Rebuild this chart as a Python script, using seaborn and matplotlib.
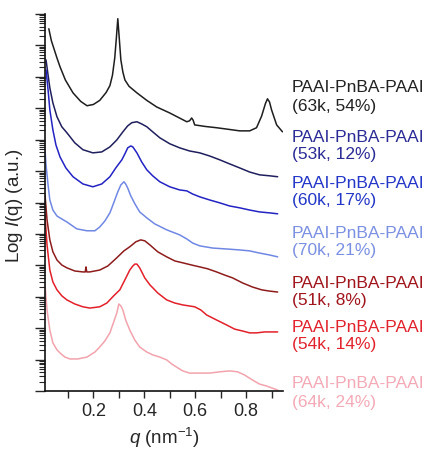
import numpy as np
import pandas as pd
import matplotlib
matplotlib.use("Agg")
import matplotlib.pyplot as plt
import seaborn as sns
from matplotlib.ticker import LogLocator, NullFormatter, FixedLocator

# ---- data (q in nm^-1, log10 intensity, offset curves) ----
q_63k = [0.025, 0.035, 0.045, 0.057, 0.069, 0.09, 0.12, 0.15, 0.175, 0.2, 0.225, 0.25, 0.265, 0.275,
         0.284, 0.29, 0.296, 0.302, 0.308, 0.316, 0.324, 0.34, 0.371, 0.41, 0.449, 0.5, 0.567, 0.578,
         0.586, 0.592, 0.598, 0.64, 0.684, 0.73, 0.775, 0.814, 0.841, 0.861, 0.876, 0.884, 0.892, 0.9,
         0.92, 0.943]
L_63k = [11.53, 11.15, 10.9, 10.6, 10.32, 9.9, 9.49, 9.22, 9.08, 9.12, 9.25, 9.5, 9.72, 10.05,
         10.6, 11.2, 11.85, 11.2, 10.54, 10.15, 9.9, 9.7, 9.49, 9.25, 9.04, 8.85, 8.57, 8.6,
         8.69, 8.62, 8.47, 8.42, 8.38, 8.33, 8.28, 8.28, 8.38, 8.75, 9.15, 9.30, 9.2, 8.95,
         8.47, 8.25]

q_53k = [0.014, 0.022, 0.029, 0.041, 0.057, 0.076, 0.096, 0.127, 0.159, 0.198, 0.233, 0.265, 0.292,
         0.316, 0.335, 0.351, 0.371, 0.39, 0.41, 0.433, 0.461, 0.5, 0.539, 0.578, 0.618, 0.657, 0.696,
         0.735, 0.775, 0.814, 0.853, 0.892, 0.924]
L_53k = [10.54, 10.06, 9.65, 9.17, 8.73, 8.41, 8.22, 7.90, 7.68, 7.58, 7.61, 7.77, 7.99,
         8.25, 8.44, 8.54, 8.57, 8.50, 8.41, 8.25, 8.06, 7.87, 7.74, 7.64, 7.58, 7.48, 7.36,
         7.23, 7.10, 6.97, 6.88, 6.85, 6.82]

q_60k = [0.014, 0.022, 0.029, 0.041, 0.053, 0.069, 0.092, 0.12, 0.159, 0.198, 0.233, 0.265, 0.288,
         0.312, 0.324, 0.335, 0.347, 0.355, 0.371, 0.39, 0.41, 0.433, 0.461, 0.5, 0.539, 0.567, 0.59,
         0.618, 0.657, 0.696, 0.735, 0.775, 0.814, 0.853, 0.892, 0.924]
L_60k = [10.22, 9.59, 8.95, 8.31, 7.83, 7.45, 7.10, 6.82, 6.59, 6.50, 6.59, 6.82, 7.10,
         7.36, 7.55, 7.74, 7.80, 7.77, 7.58, 7.29, 7.04, 6.85, 6.66, 6.50, 6.40, 6.37, 6.27,
         6.18, 6.08, 5.99, 5.89, 5.83, 5.76, 5.70, 5.67, 5.64]

q_70k = [0.010, 0.014, 0.022, 0.029, 0.041, 0.057, 0.069, 0.096, 0.135, 0.175, 0.206, 0.225, 0.245,
         0.265, 0.28, 0.296, 0.308, 0.320, 0.327, 0.335, 0.347, 0.363, 0.382, 0.41, 0.441, 0.488,
         0.52, 0.539, 0.567, 0.59, 0.618, 0.669, 0.724, 0.775, 0.814, 0.853, 0.892, 0.924]
L_70k = [7.68, 7.20, 6.56, 6.08, 5.76, 5.57, 5.51, 5.38, 5.16, 5.10, 5.10, 5.22, 5.41,
         5.67, 5.99, 6.34, 6.56, 6.66, 6.59, 6.46, 6.21, 5.96, 5.70, 5.51, 5.32, 5.13,
         5.03, 4.97, 4.84, 4.71, 4.62, 4.55, 4.52, 4.49, 4.46, 4.39, 4.33, 4.27]

q_51k = [0.010, 0.018, 0.029, 0.041, 0.057, 0.076, 0.096, 0.127, 0.159, 0.168, 0.171, 0.174, 0.186,
         0.225, 0.257, 0.292, 0.320, 0.343, 0.367, 0.386, 0.402, 0.422, 0.453, 0.488, 0.52, 0.551,
         0.586, 0.618, 0.649, 0.684, 0.716, 0.747, 0.786, 0.825, 0.861, 0.892, 0.924]
L_51k = [6.24, 5.45, 4.81, 4.43, 4.17, 4.01, 3.92, 3.82, 3.79, 3.79, 3.95, 3.79, 3.79,
         3.85, 3.98, 4.24, 4.46, 4.59, 4.75, 4.81, 4.78, 4.65, 4.43, 4.27, 4.14, 4.08,
         4.01, 3.95, 3.89, 3.79, 3.69, 3.60, 3.44, 3.31, 3.22, 3.18, 3.15]

q_54k = [0.010, 0.018, 0.029, 0.041, 0.057, 0.076, 0.096, 0.127, 0.159, 0.186, 0.225, 0.253, 0.28,
         0.304, 0.324, 0.343, 0.355, 0.363, 0.371, 0.382, 0.402, 0.422, 0.453, 0.488, 0.52, 0.551,
         0.598, 0.622, 0.645, 0.684, 0.724, 0.755, 0.786, 0.814, 0.841, 0.873, 0.9, 0.924]
L_54k = [5.61, 4.65, 3.85, 3.47, 3.22, 3.03, 2.90, 2.77, 2.68, 2.64, 2.68, 2.80, 3.03,
         3.22, 3.54, 3.85, 3.98, 4.04, 4.04, 3.92, 3.60, 3.38, 3.12, 2.90, 2.80, 2.74,
         2.68, 2.58, 2.42, 2.26, 2.10, 1.97, 1.91, 1.85, 1.85, 1.88, 1.88, 1.88]

q_64k = [0.010, 0.018, 0.029, 0.041, 0.057, 0.069, 0.088, 0.108, 0.139, 0.175, 0.206, 0.225, 0.245,
         0.265, 0.28, 0.292, 0.3, 0.308, 0.316, 0.327, 0.343, 0.363, 0.382, 0.41, 0.433, 0.461,
         0.488, 0.508, 0.527, 0.551, 0.578, 0.618, 0.657, 0.696, 0.735, 0.767, 0.794, 0.825,
         0.853, 0.88, 0.9, 0.924]
L_64k = [3.38, 2.58, 1.94, 1.53, 1.31, 1.21, 1.08, 1.02, 1.02, 1.08, 1.24, 1.40, 1.59,
         1.85, 2.20, 2.48, 2.77, 2.71, 2.58, 2.26, 1.94, 1.62, 1.40, 1.24, 1.15, 1.08,
         0.99, 0.86, 0.76, 0.64, 0.57, 0.57, 0.57, 0.61, 0.64, 0.61, 0.51, 0.35,
         0.22, 0.16, 0.10, 0.03]

samples = ["63k, 54%", "53k, 12%", "60k, 17%", "70k, 21%", "51k, 8%", "54k, 14%", "64k, 24%"]
q_sets = [q_63k, q_53k, q_60k, q_70k, q_51k, q_54k, q_64k]
L_sets = [L_63k, L_53k, L_60k, L_70k, L_51k, L_54k, L_64k]
line_colors = ["#1e1e1e", "#1f1f5e", "#2323c4", "#7088e4", "#8e1c1c", "#e3202a", "#f2a3ad"]
label_colors = ["#222222", "#2b2b96", "#2336c8", "#7b90e2", "#a0141c", "#e2222c", "#f4aab6"]
label_y = [97, 146, 192, 242, 292, 336, 393]  # pixel centres of label blocks

# ---- style ----
sns.set_style("ticks")
plt.rcParams["font.family"] = ["Liberation Sans", "DejaVu Sans"]
plt.rcParams["mathtext.fontset"] = "custom"
plt.rcParams["mathtext.rm"] = "Liberation Sans"
plt.rcParams["mathtext.it"] = "Liberation Sans:italic"

W, H = 431, 451
fig = plt.figure(figsize=(W / 100, H / 100), dpi=100)
ax = fig.add_axes([45 / W, 1 - 391 / H, (283 - 45) / W, (391 - 14) / H])

frames = []
for s, qq, LL in zip(samples, q_sets, L_sets):
    frames.append(pd.DataFrame({"q": qq, "I": np.power(10.0, LL), "sample": s}))
df = pd.concat(frames, ignore_index=True)

sns.lineplot(data=df, x="q", y="I", hue="sample", hue_order=samples,
             palette=dict(zip(samples, line_colors)), sort=False, estimator=None,
             units="sample", legend=False, linewidth=1.1, ax=ax)

ax.set_yscale("log")
ax.set_xlim(0.01, 0.945)
ax.set_ylim(1e0, 1e12)

ax.yaxis.set_major_locator(LogLocator(base=10, numticks=30))
ax.yaxis.set_minor_locator(LogLocator(base=10, subs=np.arange(2, 10), numticks=300))
ax.yaxis.set_major_formatter(NullFormatter())
ax.yaxis.set_minor_formatter(NullFormatter())
ax.xaxis.set_major_locator(FixedLocator([0.2, 0.4, 0.6, 0.8]))
ax.xaxis.set_minor_locator(FixedLocator([0.1, 0.3, 0.5, 0.7, 0.9]))

ax.tick_params(axis="y", which="major", length=7, width=1.0, direction="out")
ax.tick_params(axis="y", which="minor", length=4, width=0.8, direction="out")
ax.tick_params(axis="x", which="major", length=5, width=1.0, direction="out", labelsize=13, pad=4)
ax.tick_params(axis="x", which="minor", length=5, width=1.0, direction="out")

sns.despine(ax=ax)
for sp in ["left", "bottom"]:
    ax.spines[sp].set_linewidth(1.2)
    ax.spines[sp].set_color("#111111")

ax.set_xlabel(r"$\it{q}$ (nm$^{-1}$)", fontsize=13.5, labelpad=4)
ax.set_ylabel(r"Log $\it{I}$(q) (a.u.)", fontsize=13.5)
ax.yaxis.set_label_coords((25 - 45) / (283 - 45), 0.49)
ax.set_facecolor("white")

for s, c, yp in zip(samples, label_colors, label_y):
    fig.text(292 / W, 1 - yp / H, "PAAI-PnBA-PAAI\n(" + s + ")", color=c, fontsize=12.5,
             ha="left", va="center", linespacing=1.25)

fig.savefig("out.png", dpi=100, facecolor="white")
